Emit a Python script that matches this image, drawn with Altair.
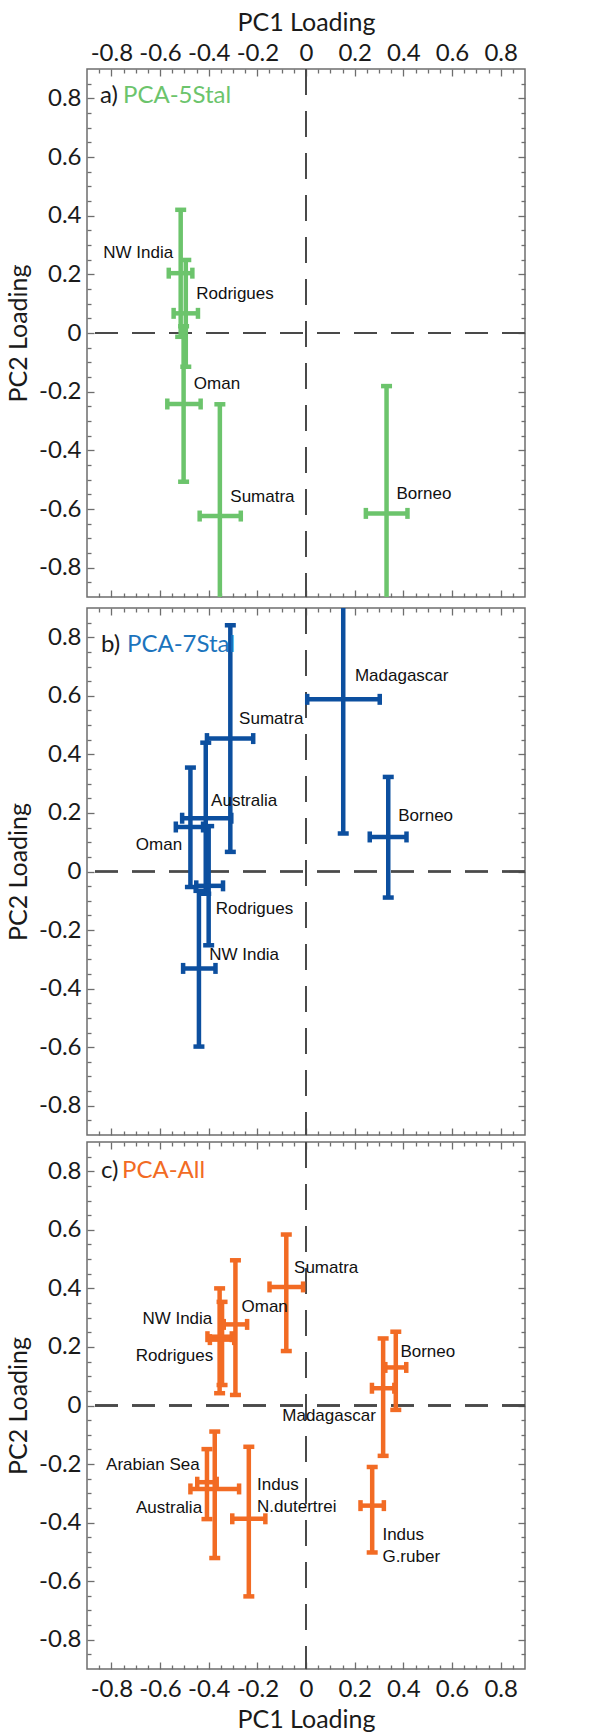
import altair as alt
import pandas as pd

# ---------------- data ----------------
MAJOR = [-0.8, -0.6, -0.4, -0.2, 0, 0.2, 0.4, 0.6, 0.8]
MINOR = [-0.85, -0.75, -0.7, -0.65, -0.55, -0.5, -0.45, -0.35, -0.3, -0.25,
         -0.15, -0.1, -0.05, 0.05, 0.1, 0.15, 0.25, 0.3, 0.35, 0.45, 0.5,
         0.55, 0.65, 0.7, 0.75, 0.85]

# a) PCA-5Stal
a_site = ["NW India", "Rodrigues", "Oman", "Sumatra", "Borneo"]
a_pc1 = [-0.515, -0.494, -0.503, -0.354, 0.331]
a_pc1_lo = [-0.564, -0.544, -0.570, -0.437, 0.246]
a_pc1_hi = [-0.467, -0.444, -0.433, -0.268, 0.417]
a_pc2 = [0.204, 0.067, -0.242, -0.624, -0.615]
a_pc2_lo = [-0.013, -0.115, -0.507, -1.005, -1.050]
a_pc2_hi = [0.420, 0.249, 0.023, -0.243, -0.181]
a_lab_x = [-0.546, -0.451, -0.461, -0.311, 0.372]
a_lab_y = [0.272, 0.133, -0.175, -0.558, -0.550]
a_lab_align = ["right", "left", "left", "left", "left"]

# b) PCA-7Stal
b_site = ["Madagascar", "Borneo", "Sumatra", "Australia", "Oman", "Rodrigues", "NW India"]
b_pc1 = [0.153, 0.338, -0.311, -0.412, -0.475, -0.400, -0.440]
b_pc1_lo = [0.005, 0.262, -0.407, -0.509, -0.535, -0.451, -0.505]
b_pc1_hi = [0.303, 0.413, -0.217, -0.307, -0.423, -0.341, -0.372]
b_pc2 = [0.588, 0.118, 0.454, 0.182, 0.152, -0.049, -0.331]
b_pc2_lo = [0.130, -0.089, 0.067, -0.076, -0.053, -0.252, -0.598]
b_pc2_hi = [1.046, 0.323, 0.841, 0.440, 0.355, 0.155, -0.066]
b_lab_x = [0.201, 0.379, -0.275, -0.390, -0.509, -0.371, -0.398]
b_lab_y = [0.667, 0.189, 0.522, 0.241, 0.089, -0.127, -0.285]
b_lab_align = ["left", "left", "left", "left", "right", "left", "left"]

# c) PCA-All
c_site = ["Sumatra", "Oman", "NW India", "Rodrigues", "Borneo", "Madagascar",
          "Arabian Sea", "Australia", "Indus\nN.dutertrei", "Indus\nG.ruber"]
c_pc1 = [-0.081, -0.290, -0.355, -0.345, 0.369, 0.317, -0.407, -0.375, -0.235, 0.272]
c_pc1_lo = [-0.150, -0.338, -0.405, -0.395, 0.326, 0.271, -0.447, -0.475, -0.303, 0.224]
c_pc1_hi = [-0.012, -0.242, -0.305, -0.295, 0.412, 0.363, -0.367, -0.275, -0.167, 0.320]
c_pc2 = [0.405, 0.277, 0.235, 0.225, 0.130, 0.059, -0.262, -0.285, -0.387, -0.342]
c_pc2_lo = [0.186, 0.036, 0.042, 0.070, -0.015, -0.172, -0.388, -0.521, -0.652, -0.502]
c_pc2_hi = [0.584, 0.496, 0.400, 0.354, 0.252, 0.229, -0.149, -0.089, -0.141, -0.210]
c_lab_x = [-0.049, -0.265, -0.385, -0.381, 0.388, 0.287, -0.437, -0.427, -0.201, 0.314]
c_lab_y = [0.470, 0.337, 0.297, 0.170, 0.183, -0.036, -0.203, -0.349, -0.272, -0.442]
c_lab_align = ["left", "left", "right", "right", "left", "right", "right", "right", "left", "left"]

# ---------------- styling ----------------
XS = alt.Scale(domain=[-0.9, 0.9], nice=False, zero=False)
YS = alt.Scale(domain=[-0.9, 0.9], nice=False, zero=False)
FRAME = "#6e6e6e"
AXFONT = "Lato"
LABFONT = "Liberation Sans"
W = 438
LABEL_EXPR = "datum.value == 0 ? '0' : toString(datum.value)"
BAR_W = 4.5


def tick_axis(orient, vals, size):
    return alt.Axis(orient=orient, values=vals, labels=False, domain=False,
                    grid=False, ticks=True, tickSize=size, offset=-size,
                    title=None, tickColor=FRAME, tickWidth=1.3)


def main_x_axis(orient):
    if orient is None:
        return None
    return alt.Axis(orient=orient, values=MAJOR, labelExpr=LABEL_EXPR,
                    ticks=False, domain=False, grid=False, title="PC1 Loading",
                    labelPadding=4 if orient == "top" else 8,
                    titlePadding=6)


MAIN_Y = alt.Axis(orient="left", values=MAJOR, labelExpr=LABEL_EXPR,
                  ticks=False, domain=False, grid=False, title="PC2 Loading",
                  labelPadding=6, titlePadding=7)


def make_panel(site, pc1, lo1, hi1, pc2, lo2, hi2, lab_x, lab_y, lab_align,
               color, tag, name, name_color, tag_x, name_x, tag_y, x_orient, height):
    df = pd.DataFrame(dict(site=site, pc1=pc1, lo1=lo1, hi1=hi1,
                           pc2=pc2, lo2=lo2, hi2=hi2))
    vcaps = pd.DataFrame({"pc1": pc1 + pc1, "pc2": lo2 + hi2})
    hcaps = pd.DataFrame({"pc1": lo1 + hi1, "pc2": pc2 + pc2})
    labs = pd.DataFrame(dict(site=site, lx=lab_x, ly=lab_y, al=lab_align))

    vrule = alt.Chart(df).mark_rule(color=color, strokeWidth=BAR_W, clip=True).encode(
        x=alt.X("pc1:Q", scale=XS, axis=main_x_axis(x_orient)),
        y=alt.Y("lo2:Q", scale=YS, axis=MAIN_Y),
        y2="hi2:Q",
    )
    hrule = alt.Chart(df).mark_rule(color=color, strokeWidth=BAR_W, clip=True).encode(
        x=alt.X("lo1:Q", scale=XS, axis=tick_axis("top", MAJOR, 7)),
        x2="hi1:Q",
        y=alt.Y("pc2:Q", scale=YS, axis=tick_axis("left", MAJOR, 7)),
    )
    vcap = alt.Chart(vcaps).mark_tick(color=color, orient="horizontal", size=11,
                                      thickness=BAR_W, clip=True, opacity=1).encode(
        x=alt.X("pc1:Q", scale=XS, axis=tick_axis("bottom", MAJOR, 7)),
        y=alt.Y("pc2:Q", scale=YS, axis=tick_axis("right", MAJOR, 7)),
    )
    hcap = alt.Chart(hcaps).mark_tick(color=color, orient="vertical", size=11,
                                      thickness=BAR_W, clip=True, opacity=1).encode(
        x=alt.X("pc1:Q", scale=XS, axis=tick_axis("top", MINOR, 4)),
        y=alt.Y("pc2:Q", scale=YS, axis=tick_axis("left", MINOR, 4)),
    )
    lab_left = alt.Chart(labs).transform_filter("datum.al == 'left'").mark_text(
        align="left", baseline="middle", font=LABFONT, fontSize=17,
        color="#111111", lineBreak="\n", lineHeight=22).encode(
        x=alt.X("lx:Q", scale=XS, axis=tick_axis("bottom", MINOR, 4)),
        y=alt.Y("ly:Q", scale=YS, axis=tick_axis("right", MINOR, 4)),
        text="site:N",
    )
    lab_right = alt.Chart(labs).transform_filter("datum.al == 'right'").mark_text(
        align="right", baseline="middle", font=LABFONT, fontSize=17,
        color="#111111", lineBreak="\n", lineHeight=22).encode(
        x=alt.X("lx:Q", scale=XS, axis=None),
        y=alt.Y("ly:Q", scale=YS, axis=None),
        text="site:N",
    )
    zero_v = alt.Chart(df).mark_rule(color="#4a4a4a", strokeWidth=1.6,
                                     strokeDash=[26, 16]).encode(
        x=alt.XDatum(0, scale=XS, axis=None))
    zero_h = alt.Chart(df).mark_rule(color="#4a4a4a", strokeWidth=1.6,
                                     strokeDash=[23, 14]).encode(
        y=alt.YDatum(0, scale=YS, axis=None))
    tag_df = pd.DataFrame({"t": [tag], "n": [name]})
    tag_t = alt.Chart(tag_df).mark_text(align="left", baseline="alphabetic",
                                        font=AXFONT, fontSize=24, color="#1a1a1a").encode(
        x=alt.value(tag_x), y=alt.value(tag_y), text="t:N")
    name_t = alt.Chart(tag_df).mark_text(align="left", baseline="alphabetic",
                                         font=AXFONT, fontSize=24, color=name_color).encode(
        x=alt.value(name_x), y=alt.value(tag_y), text="n:N")

    return alt.layer(zero_v, zero_h, vrule, hrule, vcap, hcap, lab_left, lab_right,
                     tag_t, name_t).resolve_axis(
        x="independent", y="independent").properties(width=W, height=height)


pa = make_panel(a_site, a_pc1, a_pc1_lo, a_pc1_hi, a_pc2, a_pc2_lo, a_pc2_hi,
                a_lab_x, a_lab_y, a_lab_align, "#6cc46c", "a)", "PCA-5Stal",
                "#6cc46c", 13, 36, 34, "top", 528)
pb = make_panel(b_site, b_pc1, b_pc1_lo, b_pc1_hi, b_pc2, b_pc2_lo, b_pc2_hi,
                b_lab_x, b_lab_y, b_lab_align, "#0c4f9f", "b)", "PCA-7Stal",
                "#1c74bd", 14, 40, 44, None, 527)
pc = make_panel(c_site, c_pc1, c_pc1_lo, c_pc1_hi, c_pc2, c_pc2_lo, c_pc2_hi,
                c_lab_x, c_lab_y, c_lab_align, "#f26b24", "c)", "PCA-All",
                "#f26b24", 14, 35, 36, "bottom", 527)

chart = alt.vconcat(
    alt.vconcat(pa, pb, spacing=7),
    pc,
    spacing=3,
).properties(
    padding={"left": 5, "top": 9, "right": 5, "bottom": 0},
    background="white",
).configure_view(
    stroke=FRAME, strokeWidth=1.5
).configure_axis(
    labelFont=AXFONT, labelFontSize=24, labelColor="#1a1a1a",
    titleFont=AXFONT, titleFontSize=25, titleFontWeight="normal",
    titleColor="#1a1a1a",
)

chart.save("out.html", embed_options={"renderer": "svg", "actions": False})
